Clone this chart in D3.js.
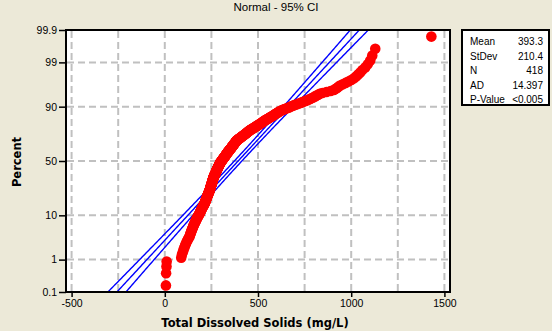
<!DOCTYPE html>
<html>
<head>
<meta charset="utf-8">
<script src="https://cdn.jsdelivr.net/npm/d3@7"></script>
<style>
  html, body { margin: 0; padding: 0; background: #ECE9D8; }
  svg { display: block; }
  text { font-family: "Liberation Sans", Arial, sans-serif; fill: #000; }
</style>
</head>
<body>
<svg id="chart" width="552" height="331"></svg>
<script>
// Total dissolved solids (mg/L), sorted ascending, 418 samples
const tds = [
  6, 7, 9, 10, 88,
  92, 97, 101, 105, 109, 113, 117, 121, 125, 129, 133,
  135, 137, 139, 141, 143, 145, 147, 149, 151, 152, 154, 156, 158, 160,
  162, 164, 165, 167, 169, 170, 172, 174, 176, 177, 179, 181, 182, 184, 186, 188,
  189, 190, 191, 193, 194, 195, 196, 198, 199, 200, 201, 203, 204, 205, 207, 208, 209, 210, 212, 213, 214,
  215, 216, 217, 217, 218, 219, 220, 220, 221, 222, 223, 223, 224, 225, 226, 226, 227, 228, 229, 229,
  230, 231, 232, 232, 233, 234, 234, 235, 236, 237, 237, 238, 239, 240, 240, 241, 242,
  242, 243, 243, 243, 244, 245, 245, 246, 246, 246, 247, 247, 248, 248, 249, 249, 250, 250, 251, 251,
  252, 252, 253, 253, 254, 254, 254, 255, 255, 256, 256, 257, 257, 258, 258, 259, 259, 260, 260, 261,
  261, 262, 262, 262, 263,
  264, 264, 265, 266, 266, 267, 268, 268, 269, 269, 270, 271, 271, 272, 273, 273, 274, 275, 275, 276,
  276, 277, 278, 278, 279, 280, 280, 281, 282, 282, 283, 283, 284, 285, 285, 286, 287, 287, 288, 289,
  289, 290, 290, 291, 292, 292, 293, 294, 294, 295, 296,
  296, 297, 298, 299, 300, 301, 302, 303, 304, 305, 306, 307, 308, 309, 310, 311, 312, 313, 314, 315,
  316, 317, 318, 319, 320, 321, 322, 323, 324, 325, 326, 327, 328, 328, 329, 330, 331, 332, 333, 334,
  335, 336, 337, 338, 339,
  340, 342, 343, 344, 345, 346, 347, 348, 349, 350, 351, 353, 354, 355, 356, 357, 358, 359, 360, 361,
  362, 364, 365, 366, 367, 368, 369, 370, 371, 372, 373, 375, 376, 377, 378, 379, 380, 381, 382, 383,
  384, 386, 387,
  389, 391, 393, 395, 397, 399, 402, 404, 406, 408, 410, 412, 414, 416, 419, 421, 423, 425, 427, 429,
  431, 434, 436, 438, 440, 442, 444, 446, 448, 451, 453, 455, 457,
  460, 463, 466, 469, 472, 475, 478, 481, 484, 487, 490, 493, 496, 499, 502, 505, 508, 511, 514, 517,
  520, 523, 526, 528, 531, 534, 537,
  541, 545, 549, 553, 557, 560, 564, 568, 572, 576, 580, 584, 587, 591, 595, 599, 603, 607, 611, 614,
  619, 626, 633, 640, 647, 655, 662, 669, 676, 683,
  691, 700, 709, 718, 728, 737, 746, 755,
  765, 773, 781, 790, 798, 806, 814, 823, 831,
  845, 867, 889, 907, 915, 924, 932, 940, 955, 970, 985, 1000, 1015, 1026, 1037, 1048, 1060, 1075, 1089,
  1102, 1113, 1129, 1430
];

// Axis ticks and grid
const percentTicks = [0.1, 1, 10, 50, 90, 99, 99.9];
const percentGrid = [1, 10, 50, 90, 99];
const xTicks = [-500, 0, 500, 1000, 1500];
const xGrid = [-500, -250, 0, 250, 500, 750, 1000, 1250, 1500];

// Fitted normal distribution and summary table
const fitMean = 393.3;
const fitStDev = 210.4;
const confLevel = 0.95;
const statLabels = ["Mean", "StDev", "N", "AD", "P-Value"];
const statValues = ["393.3", "210.4", "418", "14.397", "<0.005"];

// Inverse standard normal CDF (Acklam's rational approximation)
function qnorm(p) {
  const a = [-3.969683028665376e+01, 2.209460984245205e+02, -2.759285104469687e+02,
             1.383577518672690e+02, -3.066479806614716e+01, 2.506628277459239e+00];
  const b = [-5.447609879822406e+01, 1.615858368580409e+02, -1.556989798598866e+02,
             6.680131188771972e+01, -1.328068155288572e+01];
  const c = [-7.784894002430293e-03, -3.223964580411365e-01, -2.400758277161838e+00,
             -2.549671010229583e+00, 4.374664141464968e+00, 2.938163982698783e+00];
  const d = [7.784695709041462e-03, 3.224671290700398e-01, 2.445134137142996e+00,
             3.754408661907416e+00];
  const pl = 0.02425, ph = 1 - pl;
  let q, r;
  if (p < pl) {
    q = Math.sqrt(-2 * Math.log(p));
    return (((((c[0]*q+c[1])*q+c[2])*q+c[3])*q+c[4])*q+c[5]) /
           ((((d[0]*q+d[1])*q+d[2])*q+d[3])*q+1);
  }
  if (p <= ph) {
    q = p - 0.5; r = q * q;
    return (((((a[0]*r+a[1])*r+a[2])*r+a[3])*r+a[4])*r+a[5])*q /
           (((((b[0]*r+b[1])*r+b[2])*r+b[3])*r+b[4])*r+1);
  }
  q = Math.sqrt(-2 * Math.log(1 - p));
  return -(((((c[0]*q+c[1])*q+c[2])*q+c[3])*q+c[4])*q+c[5]) /
          ((((d[0]*q+d[1])*q+d[2])*q+d[3])*q+1);
}

const svg = d3.select("#chart");
const plot = { left: 66, right: 450, top: 30, bottom: 292 };

const x = d3.scaleLinear().domain([-530, 1530]).range([plot.left, plot.right]);
// probability scale: percent -> standard normal quantile -> pixel
const zLo = qnorm(0.001), zHi = qnorm(0.999);
const yz = d3.scaleLinear().domain([zLo, zHi]).range([plot.bottom, plot.top]);
const yp = p => yz(qnorm(p / 100));

// plot background
svg.append("rect")
  .attr("x", plot.left).attr("y", plot.top)
  .attr("width", plot.right - plot.left).attr("height", plot.bottom - plot.top)
  .attr("fill", "#fff");

svg.append("clipPath").attr("id", "plotClip")
  .append("rect")
  .attr("x", plot.left).attr("y", plot.top)
  .attr("width", plot.right - plot.left).attr("height", plot.bottom - plot.top);

// dashed reference grid
const grid = svg.append("g").attr("stroke", "#c0c0c0").attr("stroke-width", 2)
  .attr("stroke-dasharray", "7,4").attr("fill", "none");
grid.selectAll("line.v").data(xGrid).join("line").attr("class", "v")
  .attr("x1", d => x(d)).attr("x2", d => x(d))
  .attr("y1", plot.top + 1).attr("y2", plot.bottom);
grid.selectAll("line.h").data(percentGrid).join("line").attr("class", "h")
  .attr("y1", d => yp(d)).attr("y2", d => yp(d))
  .attr("x1", plot.left + 1).attr("x2", plot.right);

// fitted line with confidence band for the percentiles
const n = tds.length;
const zc = qnorm(0.5 + confLevel / 2);
const zs = d3.range(0, 201).map(i => zLo - 0.05 + (zHi - zLo + 0.1) * i / 200);
const se = z => fitStDev / Math.sqrt(n) * Math.sqrt(1 + z * z / 2);
const bandLines = [
  zs.map(z => [fitMean + z * fitStDev - zc * se(z), z]),
  zs.map(z => [fitMean + z * fitStDev, z]),
  zs.map(z => [fitMean + z * fitStDev + zc * se(z), z])
];
const lineGen = d3.line().x(d => x(d[0])).y(d => yz(d[1]));
svg.append("g").attr("clip-path", "url(#plotClip)")
  .selectAll("path").data(bandLines).join("path")
  .attr("d", lineGen).attr("fill", "none")
  .attr("stroke", "#0000ff").attr("stroke-width", 1.4);

// data points at median-rank plotting positions
svg.append("g").attr("clip-path", "url(#plotClip)")
  .selectAll("circle").data(tds).join("circle")
  .attr("cx", d => x(d))
  .attr("cy", (d, i) => yp(100 * (i + 1 - 0.3) / (n + 0.4)))
  .attr("r", 5.3)
  .attr("fill", "#ff0000");

// frame
svg.append("rect")
  .attr("x", plot.left).attr("y", plot.top)
  .attr("width", plot.right - plot.left).attr("height", plot.bottom - plot.top)
  .attr("fill", "none").attr("stroke", "#000").attr("stroke-width", 2);

// axes
const xAxis = d3.axisBottom(x).tickValues(xTicks).tickSize(5).tickPadding(3)
  .tickFormat(d => String(d));
const gx = svg.append("g").attr("transform", `translate(0,${plot.bottom})`).call(xAxis);
gx.select(".domain").remove();
gx.selectAll(".tick line").attr("stroke", "#000").attr("stroke-width", 1.5);
gx.selectAll(".tick text").attr("font-size", 10.5)
  .attr("font-family", "Liberation Sans, Arial, sans-serif");

const yAxis = d3.axisLeft(yz).tickValues(percentTicks.map(p => qnorm(p / 100)))
  .tickSize(7).tickPadding(2).tickFormat((d, i) => String(percentTicks[i]));
const gy = svg.append("g").attr("transform", `translate(${plot.left},0)`).call(yAxis);
gy.select(".domain").remove();
gy.selectAll(".tick line").attr("stroke", "#000").attr("stroke-width", 1.5);
gy.selectAll(".tick text").attr("font-size", 10.5)
  .attr("font-family", "Liberation Sans, Arial, sans-serif");

// titles
svg.append("text").attr("x", 276).attr("y", 11).attr("text-anchor", "middle")
  .attr("font-size", 11.5).text("Normal - 95% CI");
svg.append("text").attr("x", 255).attr("y", 327).attr("text-anchor", "middle")
  .attr("font-size", 11.5).attr("font-weight", "bold")
  .style("font-family", "'DejaVu Sans', Verdana, sans-serif")
  .text("Total Dissolved Solids (mg/L)");
svg.append("text").attr("transform", "translate(21,162) rotate(-90)")
  .attr("text-anchor", "middle").attr("font-size", 11.5).attr("font-weight", "bold")
  .style("font-family", "'DejaVu Sans', Verdana, sans-serif")
  .text("Percent");

// summary table
const box = { x: 462, y: 30, w: 87, h: 75 };
const tbl = svg.append("g");
tbl.append("rect").attr("x", box.x).attr("y", box.y).attr("width", box.w).attr("height", box.h)
  .attr("fill", "#fff").attr("stroke", "#000").attr("stroke-width", 2);
tbl.selectAll("text.lab").data(statLabels).join("text").attr("class", "lab")
  .attr("x", box.x + 8).attr("y", (d, i) => box.y + 15 + i * 14.5)
  .attr("font-size", 10).text(d => d);
tbl.selectAll("text.val").data(statValues).join("text").attr("class", "val")
  .attr("x", box.x + box.w - 6).attr("y", (d, i) => box.y + 15 + i * 14.5)
  .attr("text-anchor", "end").attr("font-size", 10).text(d => d);
</script>
</body>
</html>
